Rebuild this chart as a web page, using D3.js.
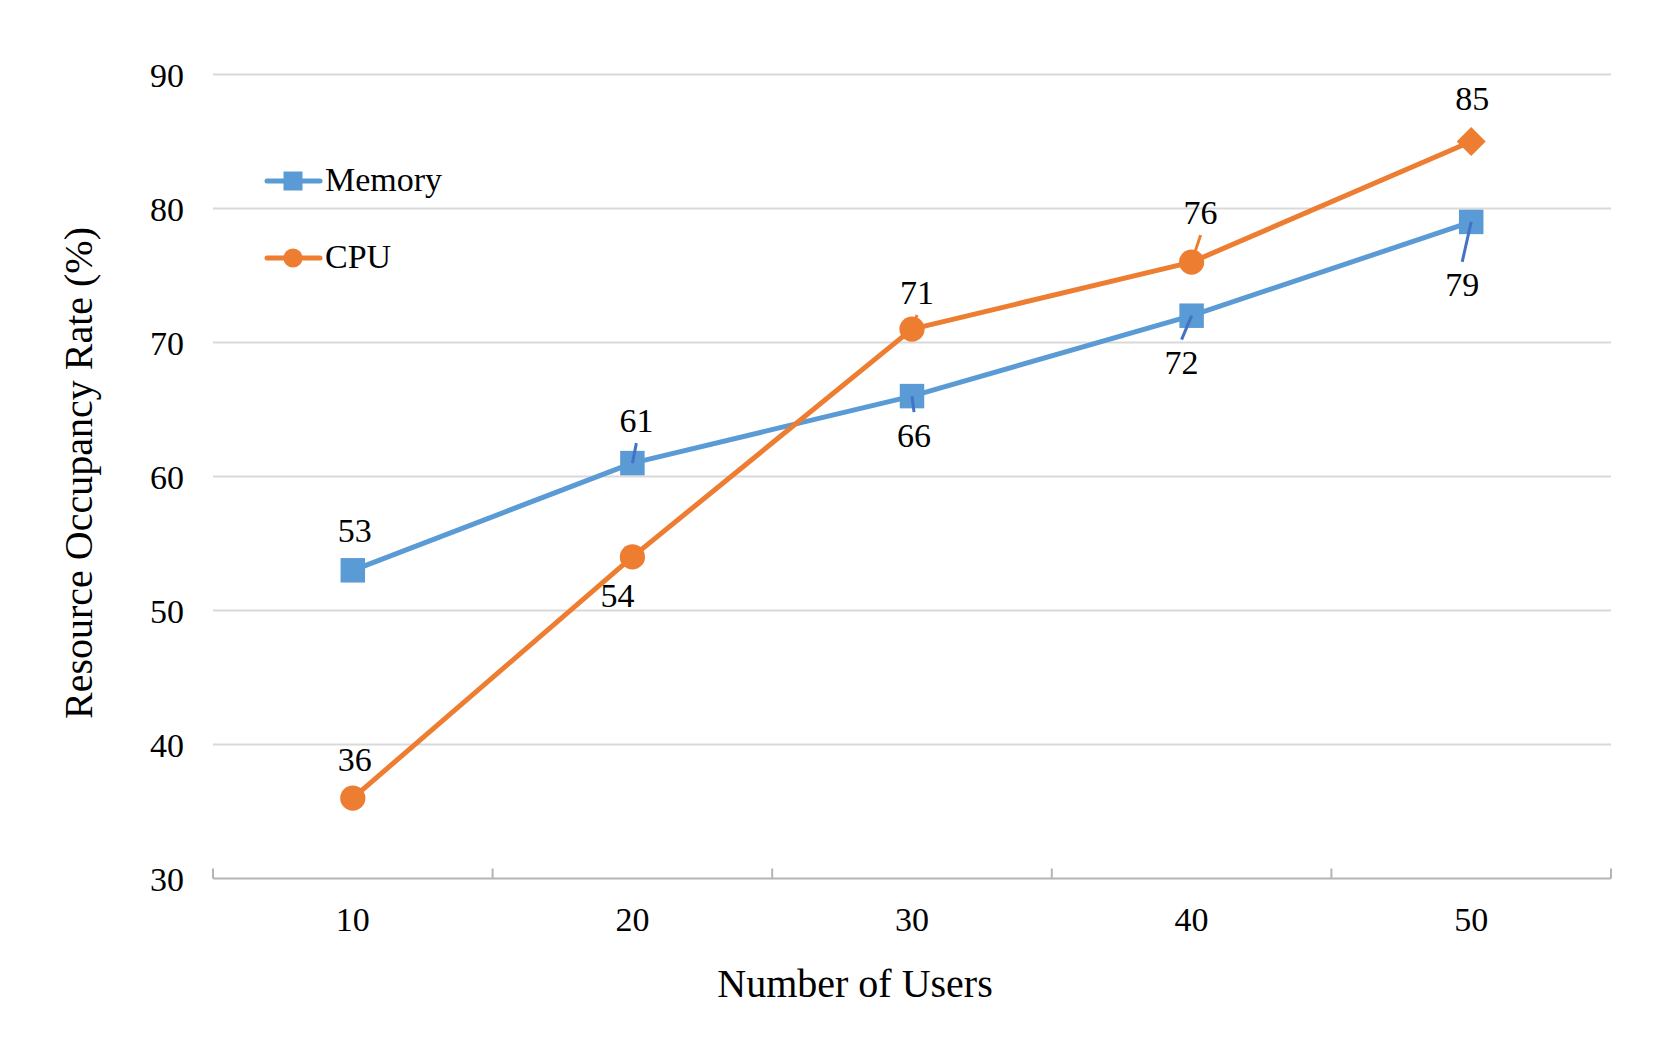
<!DOCTYPE html>
<html>
<head>
<meta charset="utf-8">
<script src="https://cdn.jsdelivr.net/npm/d3@7"></script>
<style>
  body { margin: 0; background: #fff; }
  text { font-family: "Liberation Serif", "Times New Roman", serif; fill: #000; }
</style>
</head>
<body>
<svg id="chart" width="1672" height="1040"></svg>
<script>
// data
const categories = ["10", "20", "30", "40", "50"];
const memory = [53, 61, 66, 72, 79];
const cpu = [36, 54, 71, 76, 85];
const yTicks = [30, 40, 50, 60, 70, 80, 90];

// label placement (offset of label centre from the point, leader line on/off)
const memoryLabels = [[2, -40, false], [4, -43, true], [2, 39, true], [-10, 47, true], [-9, 63, true]];
const cpuLabels = [[2, -39, false], [-15, 39, false], [5, -37, true], [9, -50, true], [1, -43, false]];
const cpuShapes = ["circle", "circle", "circle", "circle", "diamond"];

const serif = '"Liberation Serif", "Times New Roman", serif';
const svg = d3.select("#chart");
const plot = { left: 213, right: 1611, top: 74.5, bottom: 878.5 };

const x = d3.scaleBand().domain(categories).range([plot.left, plot.right]);
const y = d3.scaleLinear().domain([30, 90]).range([plot.bottom, plot.top]);
const cx = (i) => x(categories[i]) + x.bandwidth() / 2;

// gridlines
svg.append("g")
  .selectAll("line")
  .data(yTicks.filter((t) => t > 30))
  .enter()
  .append("line")
  .attr("x1", plot.left)
  .attr("x2", plot.right)
  .attr("y1", (d) => y(d))
  .attr("y2", (d) => y(d))
  .attr("stroke", "#d9d9d9")
  .attr("stroke-width", 2);

// y axis labels
const yAxis = svg.append("g")
  .attr("transform", `translate(${plot.left},0)`)
  .call(d3.axisLeft(y).tickValues(yTicks).tickSize(0).tickPadding(29))
  .attr("font-family", serif)
  .attr("font-size", 34);
yAxis.select(".domain").remove();
yAxis.selectAll("text").attr("dy", "0.34em");

// x axis
const xAxis = svg.append("g")
  .attr("transform", `translate(0,${plot.bottom})`)
  .call(d3.axisBottom(x).tickSize(0).tickPadding(0))
  .attr("font-family", serif)
  .attr("font-size", 34);
xAxis.select(".domain").remove();
xAxis.selectAll("text").attr("dy", "52");

svg.append("line")
  .attr("x1", plot.left)
  .attr("x2", plot.right)
  .attr("y1", plot.bottom)
  .attr("y2", plot.bottom)
  .attr("stroke", "#b4b4b4")
  .attr("stroke-width", 2);

svg.append("g")
  .selectAll("line")
  .data(d3.range(categories.length + 1))
  .enter()
  .append("line")
  .attr("x1", (d) => plot.left + d * x.step())
  .attr("x2", (d) => plot.left + d * x.step())
  .attr("y1", plot.bottom)
  .attr("y2", plot.bottom - 10)
  .attr("stroke", "#b4b4b4")
  .attr("stroke-width", 2);

// axis titles
svg.append("text")
  .attr("x", 855)
  .attr("y", 997)
  .attr("text-anchor", "middle")
  .style("font-size", "40px")
  .text("Number of Users");

svg.append("text")
  .attr("transform", "translate(92,473) rotate(-90)")
  .attr("text-anchor", "middle")
  .style("font-size", "40px")
  .text("Resource Occupancy Rate (%)");

// series
const line = d3.line().x((d, i) => cx(i)).y((d) => y(d));

function drawLine(values, color) {
  svg.append("path")
    .datum(values)
    .attr("d", line)
    .attr("fill", "none")
    .attr("stroke", color)
    .attr("stroke-width", 5)
    .attr("stroke-linejoin", "round");
}

drawLine(memory, "#5b9bd5");
drawLine(cpu, "#ed7d31");

const square = d3.symbol().type(d3.symbolSquare);
const circle = d3.symbol().type(d3.symbolCircle);

svg.append("g")
  .selectAll("path")
  .data(memory)
  .enter()
  .append("path")
  .attr("d", square.size(600)())
  .attr("transform", (d, i) => `translate(${cx(i)},${y(d)})`)
  .attr("fill", "#5b9bd5");

svg.append("g")
  .selectAll("path")
  .data(cpu)
  .enter()
  .append("path")
  .attr("d", (d, i) => cpuShapes[i] === "diamond"
    ? d3.symbol().type(d3.symbolSquare).size(420)()
    : circle.size(500)())
  .attr("transform", (d, i) => `translate(${cx(i)},${y(d)})` + (cpuShapes[i] === "diamond" ? " rotate(45)" : ""))
  .attr("fill", "#ed7d31");

// data labels with leader lines
function drawLabels(values, layout, leaderColor) {
  const g = svg.append("g");
  values.forEach((v, i) => {
    const [dx, dy, leader] = layout[i];
    const px = cx(i), py = y(v);
    const lx = px + dx, ly = py + dy;
    if (leader) {
      const s = dy > 0 ? -1 : 1;
      g.append("line")
        .attr("x1", lx)
        .attr("y1", ly + s * 23)
        .attr("x2", px)
        .attr("y2", py)
        .attr("stroke", leaderColor)
        .attr("stroke-width", 3);
    }
    g.append("text")
      .attr("x", lx)
      .attr("y", ly)
      .attr("dy", "0.34em")
      .attr("text-anchor", "middle")
      .style("font-size", "34px")
      .text(v);
  });
}

drawLabels(memory, memoryLabels, "#4472c4");
drawLabels(cpu, cpuLabels, "#ed7d31");

// legend
const legend = [
  { name: "Memory", color: "#5b9bd5", shape: "square", y: 181 },
  { name: "CPU", color: "#ed7d31", shape: "circle", y: 258 },
];

const lg = svg.append("g")
  .selectAll("g")
  .data(legend)
  .enter()
  .append("g")
  .attr("transform", (d) => `translate(0,${d.y})`);

lg.append("line")
  .attr("x1", 267)
  .attr("x2", 320)
  .attr("stroke", (d) => d.color)
  .attr("stroke-width", 5)
  .attr("stroke-linecap", "round");

lg.append("path")
  .attr("d", (d) => d.shape === "square" ? square.size(361)() : circle.size(290)())
  .attr("transform", "translate(293,0)")
  .attr("fill", (d) => d.color);

lg.append("text")
  .attr("x", 325)
  .attr("dy", "0.3em")
  .style("font-size", "34px")
  .text((d) => d.name);
</script>
</body>
</html>
